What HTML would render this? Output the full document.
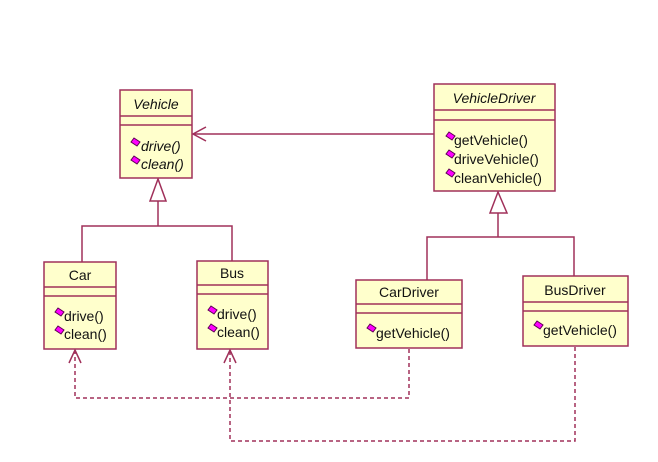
<!DOCTYPE html>
<html><head><meta charset="utf-8"><style>
html,body{margin:0;padding:0;background:#fff;}
svg{display:block;}
text{font-family:"Liberation Sans",Arial,sans-serif;font-size:14px;fill:#111;}
</style></head><body>
<svg width="658" height="462" viewBox="0 0 658 462" xmlns="http://www.w3.org/2000/svg">
<defs>
<g id="ic"><polygon points="0,3 3,-1 9,3 6,7" fill="#ff00ff" stroke="#5a0050" stroke-width="1"/></g>
</defs>
<g stroke="#a0305a" stroke-width="1.5" fill="none">
<line x1="193" y1="134" x2="434" y2="134"/>
<polyline points="206,127 193,134 206,141"/>
<polygon points="158,179 150,201 166,201" fill="#fff"/>
<line x1="158" y1="201" x2="158" y2="226"/>
<polyline points="82,262 82,226 232,226 232,261"/>
<polygon points="498,192 490,213 507,213" fill="#fff"/>
<line x1="498" y1="213" x2="498" y2="237"/>
<polyline points="427,280 427,237 574,237 574,276"/>
<polyline stroke-dasharray="4,3" points="409,349 409,398 75,398 75,351"/>
<polyline stroke-dasharray="4,3" points="575,347 575,441 230,441 230,351"/>
<polyline points="69,363 75,350 81,363"/>
<polyline points="224,363 230,350 236,363"/>
</g>
<g fill="#ffffcc" stroke="#a0305a" stroke-width="1.5">
<rect x="120" y="90" width="72" height="88"/>
<line x1="120" y1="116" x2="192" y2="116"/><line x1="120" y1="125" x2="192" y2="125"/>
<rect x="44" y="262" width="72" height="87"/>
<line x1="44" y1="287" x2="116" y2="287"/><line x1="44" y1="296" x2="116" y2="296"/>
<rect x="197" y="261" width="71" height="88"/>
<line x1="197" y1="285" x2="268" y2="285"/><line x1="197" y1="294" x2="268" y2="294"/>
<rect x="434" y="84" width="121" height="107"/>
<line x1="434" y1="110" x2="555" y2="110"/><line x1="434" y1="120" x2="555" y2="120"/>
<rect x="356" y="280" width="106" height="68"/>
<line x1="356" y1="304" x2="462" y2="304"/><line x1="356" y1="313" x2="462" y2="313"/>
<rect x="523" y="276" width="105" height="70"/>
<line x1="523" y1="302" x2="628" y2="302"/><line x1="523" y1="311" x2="628" y2="311"/>
</g>
<text x="156" y="109" text-anchor="middle" font-style="italic">Vehicle</text>
<use href="#ic" x="131" y="139"/><text x="141" y="151" font-style="italic">drive()</text>
<use href="#ic" x="131" y="157"/><text x="141" y="169" font-style="italic">clean()</text>
<text x="80" y="280" text-anchor="middle">Car</text>
<use href="#ic" x="55" y="309"/><text x="64" y="321">drive()</text>
<use href="#ic" x="55" y="327"/><text x="64" y="339">clean()</text>
<text x="232" y="278" text-anchor="middle">Bus</text>
<use href="#ic" x="208" y="307"/><text x="217" y="319">drive()</text>
<use href="#ic" x="208" y="325"/><text x="217" y="337">clean()</text>
<text x="494" y="103" text-anchor="middle" font-style="italic">VehicleDriver</text>
<use href="#ic" x="446" y="133"/><text x="454" y="145">getVehicle()</text>
<use href="#ic" x="446" y="151"/><text x="454" y="164">driveVehicle()</text>
<use href="#ic" x="446" y="170"/><text x="454" y="183">cleanVehicle()</text>
<text x="409" y="297" text-anchor="middle">CarDriver</text>
<use href="#ic" x="367" y="325"/><text x="376" y="338">getVehicle()</text>
<text x="575" y="295" text-anchor="middle">BusDriver</text>
<use href="#ic" x="534" y="322"/><text x="543" y="335">getVehicle()</text>
</svg>
</body></html>
